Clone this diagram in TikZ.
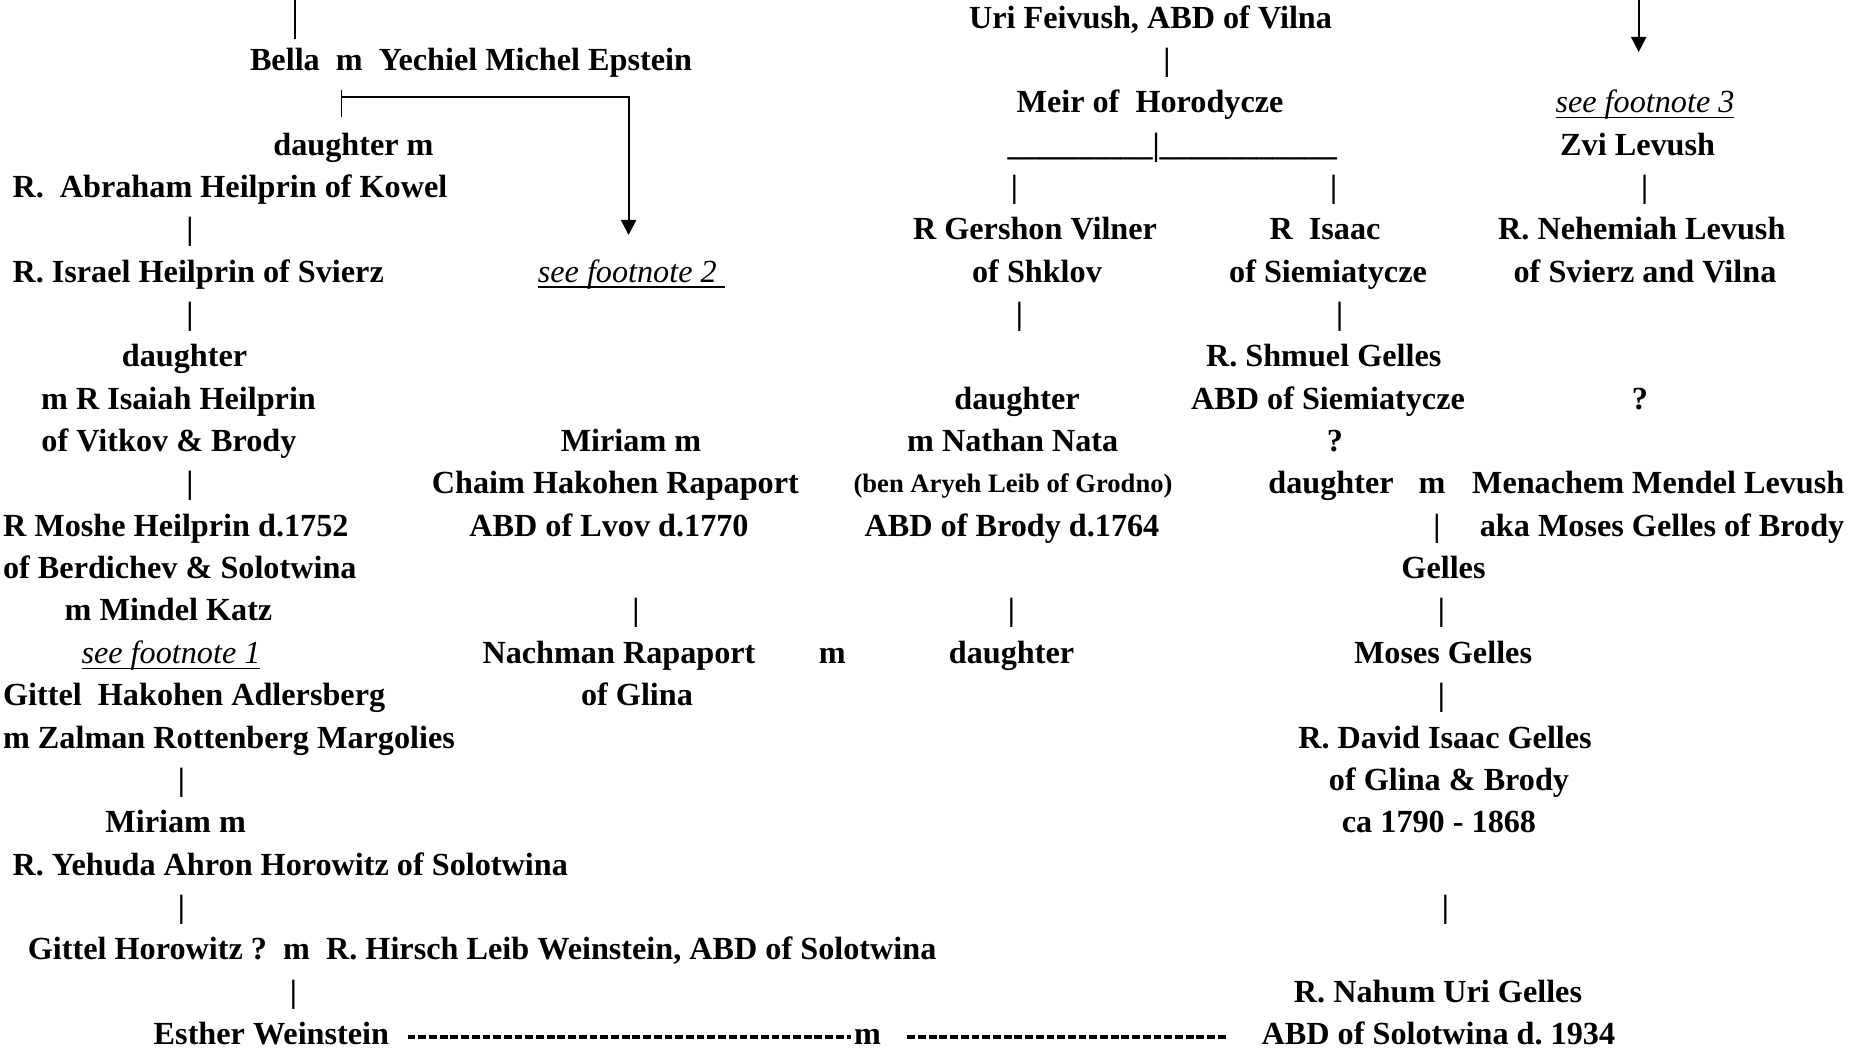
\documentclass[tikz,border=0pt]{standalone}
\usepackage{fontspec}
\setmainfont{Liberation Serif}
\usetikzlibrary{arrows.meta}

\tikzset{
  person/.style={inner sep=0pt, text height=6pt, text depth=0pt,
    font=\bfseries\fontsize{9.16}{11}\selectfont},
  smallperson/.style={person, text height=5pt,
    font=\bfseries\fontsize{7.57}{9}\selectfont},
  fnote/.style={person, font=\normalfont\itshape\fontsize{9.16}{11}\selectfont},
  link/.style={line width=0.55pt},
  arrowline/.style={link, -{Triangle[length=0.15cm,width=0.15cm]}},
  wed/.style={line width=1pt, dash pattern=on 0.078cm off 0.029cm}
}
\newcommand{\seenote}[1]{\underline{\smash{#1}}}

\begin{document}
\frenchspacing
\begin{tikzpicture}[x=0.01cm, y=-0.01cm]
\useasboundingbox (0,0) rectangle (1854,1049);

            % left branch
            \node[person] (bella) at (471,59.9) {Bella\ \ m\ \ Yechiel Michel Epstein};
            \node[person] (dm) at (353.5,144.6) {daughter m};
            \node[person, anchor=west] (abraham) at (11.8,186.9) {R.\ \ Abraham Heilprin of Kowel};
            \node[person, anchor=west] (israel) at (11.8,271.6) {R. Israel Heilprin of Svierz};
            \node[fnote] (fn2) at (631.3,271.6) {\seenote{see footnote 2\ }};
            \node[person] (dauA) at (184.5,356.3) {daughter};
            \node[person] (isaiah) at (178.5,398.7) {m R Isaiah Heilprin};
            \node[person] (vitkov) at (169,441) {of Vitkov \& Brody};
            \node[person, anchor=west] (moshe) at (2.4,525.7) {R Moshe Heilprin d.1752};
            \node[person, anchor=west] (berd) at (2.4,568.1) {of Berdichev \& Solotwina};
            \node[person] (katz) at (168.5,610.4) {m Mindel Katz};
            \node[fnote] (fn1) at (171,652.8) {\seenote{see footnote 1}};
            \node[person, anchor=west] (gittel) at (2.4,695.1) {Gittel\ \ Hakohen Adlersberg};
            \node[person, anchor=west] (zalman) at (2.4,737.5) {m Zalman Rottenberg Margolies};
            \node[person] (miriamB) at (175.6,822.2) {Miriam m};
            \node[person, anchor=west] (yehuda) at (11.8,864.5) {R. Yehuda Ahron Horowitz of Solotwina};
            \node[person, anchor=west] (hirsch) at (27.2,949.2) {Gittel Horowitz ?\ \ m\ \ R. Hirsch Leib Weinstein, ABD of Solotwina};
            \node[person] (esther) at (271.4,1033.9) {Esther Weinstein};

            % Rapaport
            \node[person] (miriamA) at (631,441) {Miriam m};
            \node[person] (chaim) at (615.4,483.4) {Chaim Hakohen Rapaport};
            \node[person] (lvov) at (609,525.7) {ABD of Lvov d.1770};
            \node[person] (nachman) at (619,652.8) {Nachman Rapaport};
            \node[person] (mD) at (832.4,652.8) {m};
            \node[person] (glina) at (637,695.1) {of Glina};
            \node[person] (wedm) at (867.5,1033.9) {m};

            % Vilna
            \node[person] (uri) at (1150.5,17.5) {Uri Feivush, ABD of Vilna};
            \node[person] (meir) at (1150,102.2) {Meir of\ \ Horodycze};
            \node[person] (branch) at (1172.3,144.6) {\_\_\_\_\_\_\_\_\_|\_\_\_\_\_\_\_\_\_\_\_};
            \node[person] (gershon) at (1035,229.3) {R Gershon Vilner};
            \node[person] (shklov) at (1037,271.6) {of Shklov};
            \node[person] (dauB) at (1017,398.7) {daughter};
            \node[person] (nathan) at (1012.7,441) {m Nathan Nata};
            \node[smallperson] (ben) at (1013,483.4) {(ben Aryeh Leib of Grodno)};
            \node[person] (brody) at (1012,525.7) {ABD of Brody d.1764};
            \node[person] (dauD) at (1011.5,652.8) {daughter};

            % Gelles
            \node[person] (isaac) at (1325,229.3) {R\ \ Isaac};
            \node[person] (siem) at (1328,271.6) {of Siemiatycze};
            \node[person] (shmuel) at (1323.7,356.3) {R. Shmuel Gelles};
            \node[person] (abdsiem) at (1328,398.7) {ABD of Siemiatycze};
            \node[person] (qb) at (1335,441) {?};
            \node[person] (dauC) at (1331,483.4) {daughter};
            \node[person] (mC) at (1432,483.4) {m};
            \node[person] (gellesA) at (1443.5,568.1) {Gelles};
            \node[person] (moses) at (1443,652.8) {Moses Gelles};
            \node[person] (david) at (1445,737.5) {R. David Isaac Gelles};
            \node[person] (glbrody) at (1449,779.8) {of Glina \& Brody};
            \node[person] (ca) at (1439,822.2) {ca 1790 - 1868};
            \node[person] (nahum) at (1438,991.6) {R. Nahum Uri Gelles};
            \node[person] (abdsolo) at (1438.4,1033.9) {ABD of Solotwina d. 1934};

            % Levush
            \node[fnote] (fn3) at (1645,102.2) {\seenote{see footnote 3}};
            \node[person] (zvi) at (1637.6,144.6) {Zvi Levush};
            \node[person] (nehemiah) at (1641.8,229.3) {R. Nehemiah Levush};
            \node[person] (svierz) at (1645,271.6) {of Svierz and Vilna};
            \node[person] (qa) at (1640,398.7) {?};
            \node[person, anchor=east] (menachem) at (1845,483.4) {Menachem Mendel Levush};
            \node[person, anchor=east] (aka) at (1845,525.7) {aka Moses Gelles of Brody};

             %pipes
                 \foreach \x/\y [count=\i] in {1167/59.9, 1014.5/186.9, 1333.7/186.9, 1644.7/186.9,
                     190/229.3, 190/314.0, 1019.5/314.0, 1339.7/314.0, 190/483.4, 1437/525.7,
                     636/610.4, 1011.5/610.4, 1441.5/610.4, 1441.5/695.1, 181.5/779.8,
                     181.5/906.9, 1445.5/906.9, 293.4/991.6}
                     \node[person] (pipe\i) at (\x,\y) {|};

            % arrows
            \coordinate (topL) at (294.6,0);
            \coordinate (bellaTop) at (294.6,39);
            \draw[link] (topL) -- (bellaTop);

            \coordinate (topR) at (1638.7,0);
            \coordinate (zviTip) at (1638.7,52);
            \draw[arrowline] (topR) -- (zviTip);

            \coordinate (fork) at (341.5,97);
            \coordinate (fn2tip) at (628.6,235);
            \draw[link] (fork) ++(0,-7) -- ++(0,27);
            \draw[arrowline] (fork) -| (fn2tip);

            % marriage
            \draw[wed, shorten <=0.178cm, shorten >=0.02cm] ([yshift=-0.9pt]esther.east) -- ([yshift=-0.9pt]wedm.west);
            \draw[wed, shorten <=0.257cm, shorten >=0.35cm] ([yshift=-0.9pt]wedm.east) -- ([yshift=-0.9pt]abdsolo.west);
\end{tikzpicture}
\end{document}
